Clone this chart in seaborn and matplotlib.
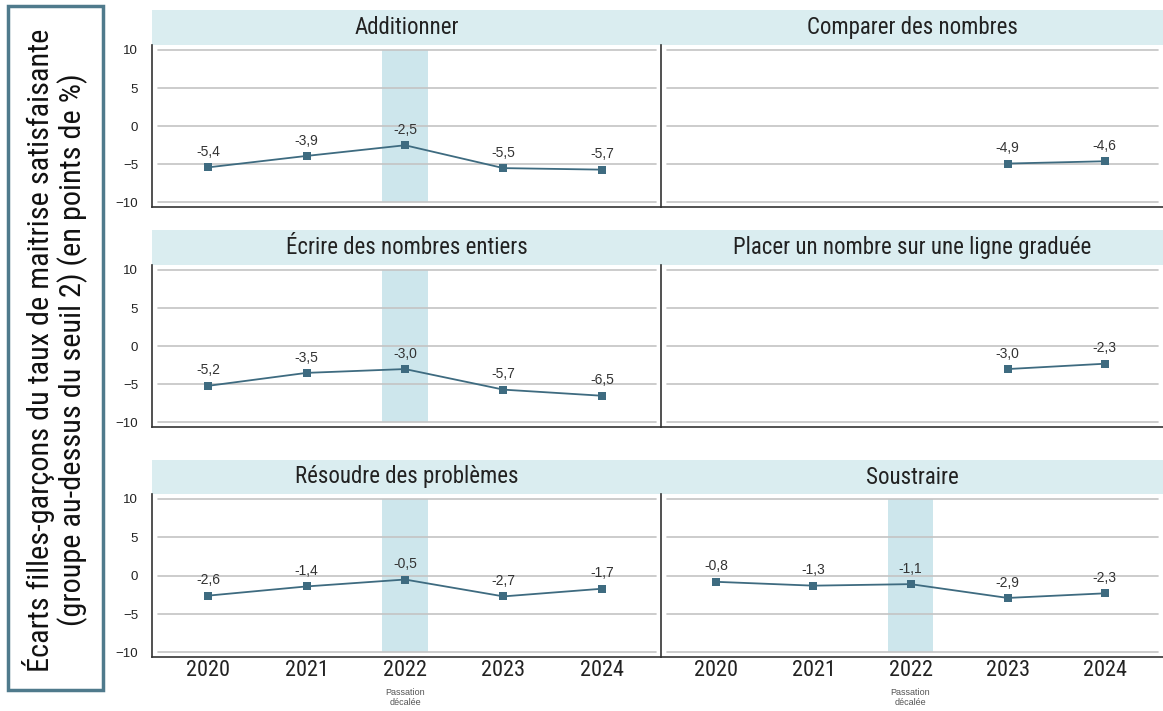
import matplotlib
matplotlib.use('Agg')
import matplotlib.pyplot as plt
import seaborn as sns
import numpy as np
import pandas as pd
from matplotlib.patches import Rectangle

sns.set_theme(style='white')
plt.rcParams['font.family'] = ['Liberation Sans', 'DejaVu Sans']
narrow = ['Roboto Condensed', 'Liberation Sans Narrow', 'Roboto', 'DejaVu Sans']

# données
years = [2020, 2021, 2022, 2023, 2024]
additionner = [-5.4, -3.9, -2.5, -5.5, -5.7]
comparer = [np.nan, np.nan, np.nan, -4.9, -4.6]
ecrire = [-5.2, -3.5, -3.0, -5.7, -6.5]
placer = [np.nan, np.nan, np.nan, -3.0, -2.3]
resoudre = [-2.6, -1.4, -0.5, -2.7, -1.7]
soustraire = [-0.8, -1.3, -1.1, -2.9, -2.3]
yticks = [10, 5, 0, -5, -10]

titres = ['Additionner', 'Comparer des nombres', 'Écrire des nombres entiers',
          'Placer un nombre sur une ligne graduée', 'Résoudre des problèmes', 'Soustraire']
series = [additionner, comparer, ecrire, placer, resoudre, soustraire]
bande_2022 = [True, False, True, False, True, True]

W, H = 1163, 711
fig = plt.figure(figsize=(W / 100, H / 100), dpi=100)

def px(x0, y0, x1, y1):
    return [x0 / W, 1 - y1 / H, (x1 - x0) / W, (y1 - y0) / H]

line_col = '#3e6b80'
band_col = '#cde6ec'
head_col = '#daedf0'

rows = [(10, 45, 207), (230, 265, 427), (460, 494, 657)]
cols = [(152, 661), (661, 1163)]

for i, (titre, vals) in enumerate(zip(titres, series)):
    r, c = divmod(i, 2)
    ht, at, ab = rows[r]
    x0, x1 = cols[c]
    # bandeau de titre
    hax = fig.add_axes(px(x0, ht, x1, at))
    hax.set_facecolor(head_col)
    hax.set_xticks([]); hax.set_yticks([])
    for s in hax.spines.values():
        s.set_visible(False)
    hax.text(0.5, 0.5, titre, ha='center', va='center', fontsize=16.5,
             family=narrow, color='#222222', transform=hax.transAxes)

    ax = fig.add_axes(px(x0, at, x1, ab))
    df = pd.DataFrame({'annee': years, 'ecart': vals}).dropna()
    if bande_2022[i]:
        ax.fill_between([2021.765, 2022.235], -10, 10, color=band_col, lw=0, zorder=0)
    for yv in yticks:
        ax.axhline(yv, xmin=0.012, xmax=0.99, color='#c4c4c4', linewidth=1.2, zorder=1)
    sns.lineplot(data=df, x='annee', y='ecart', ax=ax, color=line_col, marker='s',
                 markersize=6, markeredgewidth=0, linewidth=1.3, zorder=3)
    for xv, yv in zip(df['annee'], df['ecart']):
        ax.annotate(f'{yv:.1f}'.replace('.', ','), (xv, yv), xytext=(0, 6),
                    textcoords='offset points', ha='center', va='bottom',
                    fontsize=10, color='#333333')
    ax.set_xlim(2019.43, 2024.6)
    ax.set_ylim(-10.6, 10.65)
    ax.set_yticks(yticks)
    ax.grid(False)
    ax.set_xlabel('')
    ax.set_ylabel('')
    ax.set_xticks(years)
    for s in ['top', 'right']:
        ax.spines[s].set_visible(False)
    ax.spines['left'].set_color('#333333')
    ax.spines['bottom'].set_color('#333333')
    ax.spines['left'].set_linewidth(1.2)
    ax.spines['bottom'].set_linewidth(1.2)
    if c == 0:
        ax.tick_params(axis='y', labelsize=9.5, colors='#222222', length=0, pad=10)
    else:
        ax.set_yticklabels([])
        ax.tick_params(axis='y', length=0)
    if r == 2:
        ax.tick_params(axis='x', labelsize=16, labelcolor='#222222', length=4,
                       color='#c4c4c4', direction='in', pad=2)
        for lab in ax.get_xticklabels():
            lab.set_family(narrow)
        ax.text(2022, -0.19, 'Passation\ndécalée', transform=ax.get_xaxis_transform(),
                ha='center', va='top', fontsize=6.5, color='#555555', linespacing=1.2)
    else:
        ax.set_xticklabels([])
        ax.tick_params(axis='x', length=0)

# cadre du titre vertical
fig.patches.append(Rectangle((8 / W, 1 - 690 / H), 95 / W, 684 / H, transform=fig.transFigure,
                             fill=False, edgecolor='#4f7a8c', linewidth=2.5))
fig.text(55 / W, 1 - 350 / H,
         'Écarts filles-garçons du taux de maitrise satisfaisante\n(groupe au-dessus du seuil 2) (en points de %)',
         rotation=90, ha='center', va='center', fontsize=21.8, family=narrow,
         color='#111111', linespacing=1.1, multialignment='center')

fig.savefig('out.png', dpi=100)
